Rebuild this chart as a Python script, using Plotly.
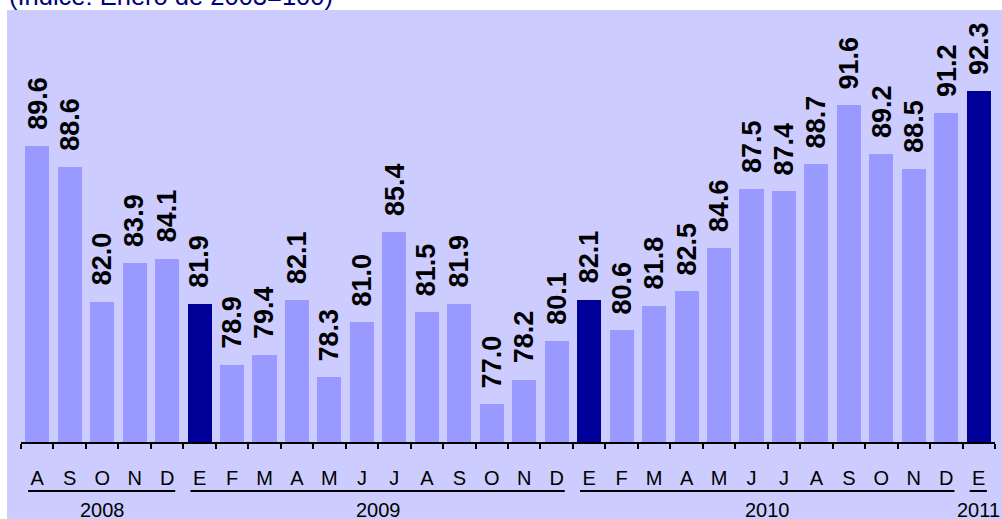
import plotly.graph_objects as go

months = ["A", "S", "O", "N", "D",
          "E", "F", "M", "A", "M", "J", "J", "A", "S", "O", "N", "D",
          "E", "F", "M", "A", "M", "J", "J", "A", "S", "O", "N", "D",
          "E"]
values = [89.6, 88.6, 82.0, 83.9, 84.1,
          81.9, 78.9, 79.4, 82.1, 78.3, 81.0, 85.4, 81.5, 81.9, 77.0, 78.2, 80.1,
          82.1, 80.6, 81.8, 82.5, 84.6, 87.5, 87.4, 88.7, 91.6, 89.2, 88.5, 91.2,
          92.3]
years = ["2008", "2009", "2010", "2011"]
year_counts = [5, 12, 12, 1]
title_text = "(Índice: Enero de 2003=100)"

LIGHT = "#9999FF"
DARK = "#000099"
BG = "#CCCCFF"

x = list(range(len(values)))
colors = [DARK if m == "E" else LIGHT for m in months]

fig = go.Figure()
fig.add_trace(go.Bar(x=x, y=values, width=0.74, marker=dict(color=colors, line=dict(width=0)),
                     hoverinfo="skip"))

annotations = []
for xi, v in zip(x, values):
    annotations.append(dict(x=xi, y=v, xref="x", yref="y", text=f"<b>{v:.1f}</b>",
                            textangle=-90, showarrow=False, xanchor="center", yanchor="bottom",
                            yshift=14, font=dict(family="Arial, Liberation Sans", size=27, color="black")))

shapes = []
W, H = 1002, 519
ml, mr, mt, mb = 21, 7, 10, 77
pw = W - ml - mr
ph = H - mt - mb

def px2paperx(px):
    return (px - ml) / pw

def py2papery(py):
    return (H - mb - py) / ph

# white strips (top and left) outside the lavender panel
shapes.append(dict(type="rect", xref="paper", yref="paper", x0=px2paperx(0), x1=px2paperx(W),
                   y0=py2papery(10), y1=py2papery(0), fillcolor="white", line=dict(width=0), layer="below"))
shapes.append(dict(type="rect", xref="paper", yref="paper", x0=px2paperx(0), x1=px2paperx(7),
                   y0=py2papery(H), y1=py2papery(0), fillcolor="white", line=dict(width=0), layer="below"))

start = 0
for yr, n in zip(years, year_counts):
    first, last = start, start + n - 1
    shapes.append(dict(type="line", xref="x", yref="paper", x0=first - 0.5 + 0.22, x1=last + 0.5 - 0.25,
                       y0=py2papery(491), y1=py2papery(491), line=dict(color="black", width=2)))
    annotations.append(dict(x=(first + last) / 2, y=py2papery(510), xref="x", yref="paper", text=yr,
                            showarrow=False, xanchor="center", yanchor="middle",
                            font=dict(family="Arial, Liberation Sans", size=20, color="black")))
    start += n

annotations.append(dict(x=px2paperx(7), y=py2papery(-4), xref="paper", yref="paper", text=title_text,
                        showarrow=False, xanchor="left", yanchor="middle",
                        font=dict(family="Arial, Liberation Sans", size=25.5, color="#000080")))

fig.update_layout(
    width=W, height=H,
    margin=dict(l=ml, r=mr, t=mt, b=mb, pad=0),
    paper_bgcolor=BG, plot_bgcolor=BG,
    showlegend=False,
    bargap=0,
    xaxis=dict(range=[-0.5, len(values) - 0.5], tickmode="array", tickvals=x, ticktext=months,
               ticks="", showgrid=False, zeroline=False, showline=True, linecolor="black", linewidth=1.5,
               ticklabelstandoff=17,
               tickfont=dict(family="Arial, Liberation Sans", size=20, color="black"),
               minor=dict(tickmode="array", tickvals=[i - 0.5 for i in range(len(values) + 1)],
                          ticks="outside", ticklen=5, tickwidth=1.5, tickcolor="black", showgrid=False)),
    yaxis=dict(range=[75.15, 96.24], visible=False, showgrid=False, zeroline=False),
    shapes=shapes,
    annotations=annotations,
)

fig.write_html("out.html", config={"displayModeBar": False},
               post_script="document.body.style.margin='0';document.body.style.padding='0';document.body.style.overflow='hidden';")
